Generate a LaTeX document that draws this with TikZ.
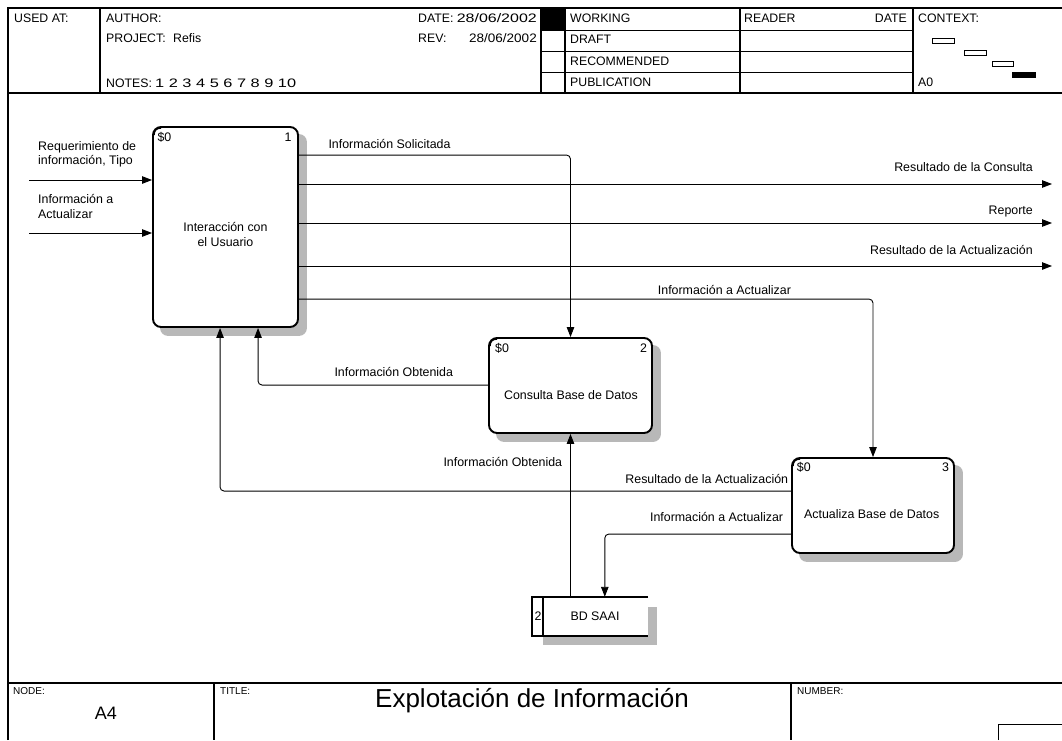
\documentclass[tikz,border=0pt]{standalone}
\usepackage{fontspec}
\usepackage{graphicx}
\setmainfont{Liberation Sans}
\usetikzlibrary{arrows.meta,calc,backgrounds}

\newcommand\lblfont{\fontsize{12.4}{14.2}\selectfont}
\newcommand\hdrfont{\fontsize{12.3}{14.2}\selectfont}
\newcommand\smallhdrfont{\fontsize{10}{12}\selectfont}

\tikzset{
  frameline/.style={line width=1.2pt},
  thinframe/.style={line width=0.9pt},
  procbox/.style={draw, line width=1.9pt, rounded corners=8pt, fill=white, inner sep=0pt},
  boxshade/.style={fill=black!28, rounded corners=8pt},
  flow/.style={line width=0.9pt, rounded corners=4pt, -{Triangle[length=10pt,width=7.5pt]}},
  lbl/.style={font=\lblfont, inner sep=0pt},
  hdr/.style={font=\hdrfont, inner sep=0pt, anchor=base west},
  corner/.style={line width=1pt},
}

\begin{document}
\begin{tikzpicture}[x=1pt,y=-1pt]
\useasboundingbox (0,0) rectangle (1062,740);

% ---------- header block ----------
\draw[frameline] (8,740) -- (8,8) -- (1062,8);
\draw[frameline] (8,93) -- (1062,93);
\foreach \xx in {100,541,565,740,913} \draw[frameline] (\xx,8) -- (\xx,93);
\foreach \yy in {30,51,72} \draw[thinframe] (541,\yy) -- (913,\yy);
\fill (541,8) rectangle (565,30);

\node[hdr] (usedat) at (14,22) {USED AT:};
\node[hdr] (author) at (106,22) {AUTHOR:};
\node[hdr] (project) at (106,42.3) {PROJECT:};
\node[hdr] (projname) at (173,42.3) {Refis};
\node[hdr] (notes) at (106,87) {NOTES:};
\node[hdr] (notenums) at (155,87) {\scalebox{1.33}[1]{1 2 3 4 5 6 7 8 9 10}};
\node[hdr] (date) at (418,22) {DATE:};
\node[hdr, anchor=base east] (dateval) at (537,22) {\scalebox{1.3}[1]{28/06/2002}};
\node[hdr] (rev) at (418,42.3) {REV:};
\node[hdr, anchor=base east] (revval) at (537,42.3) {\scalebox{1.1}[1]{28/06/2002}};
\node[hdr] (working) at (570,22) {WORKING};
\node[hdr] (draft) at (570,43) {DRAFT};
\node[hdr] (recommended) at (570,65) {RECOMMENDED};
\node[hdr] (publication) at (570,86) {PUBLICATION};
\node[hdr] (reader) at (744,22) {READER};
\node[hdr, anchor=base east] (readerdate) at (907,22) {DATE};
\node[hdr] (context) at (918,22) {CONTEXT:};
\node[hdr] (ctxnode) at (918,86) {A0};

% context staircase
\draw[line width=0.8pt] (932,38) rectangle (954,43);
\draw[line width=0.8pt] (964,50) rectangle (986,55);
\draw[line width=0.8pt] (992,61) rectangle (1013,66);
\fill (1012,72) rectangle (1036,78);

% ---------- footer block ----------
\draw[frameline] (8,683) -- (1062,683);
\draw[frameline] (214,683) -- (214,740);
\draw[frameline] (791,683) -- (791,740);
\draw[thinframe] (998,740) -- (998,724) -- (1062,724);
\node[inner sep=0pt, anchor=base west, font=\smallhdrfont] (nodelbl) at (13,694) {NODE:};
\node[inner sep=0pt, anchor=base west, font=\smallhdrfont] (titlelbl) at (220,694) {TITLE:};
\node[inner sep=0pt, anchor=base west, font=\smallhdrfont] (numberlbl) at (797,694) {NUMBER:};
\node[inner sep=0pt, anchor=base, font=\fontsize{18}{20}\selectfont] (nodeid) at (106,719) {A4};
\node[inner sep=0pt, anchor=base, font=\fontsize{26}{28}\selectfont] (title) at (532,707) {Explotación de Información};

% ---------- activity boxes ----------
\node[procbox, minimum width=145pt, minimum height=200pt] (b1) at (225.5,227) {};
\node[procbox, minimum width=163pt, minimum height=95pt] (b2) at (570.5,385.5) {};
\node[procbox, minimum width=162pt, minimum height=95pt] (b3) at (873,505.5) {};
\begin{scope}[on background layer]
  \foreach \b in {b1,b2,b3}
    \fill[boxshade] ($(\b.north west)+(8,8)$) rectangle ($(\b.south east)+(8,8)$);
\end{scope}
\foreach \b in {b1,b2,b3}
  \draw[corner] ($(\b.north west)+(2.2,9)$) .. controls ($(\b.north west)+(2.2,4.5)$) and ($(\b.north west)+(4.5,2.2)$) .. ($(\b.north west)+(9,2.2)$);

\node[lbl, align=center, anchor=base] (t1) at (225.5,246) {Interacción con\\el Usuario};
\node[lbl, anchor=base] (t2) at (571,399.3) {Consulta Base de Datos};
\node[lbl, anchor=base] (t3) at (871.7,518.3) {Actualiza Base de Datos};
\node[lbl, anchor=base west] (c1) at (157.3,141) {\$0};
\node[lbl, anchor=base east] (n1) at (291.7,141) {1};
\node[lbl, anchor=base west] (c2) at (495,352.3) {\$0};
\node[lbl, anchor=base east] (n2) at (647.3,352.3) {2};
\node[lbl, anchor=base west] (c3) at (796.7,471.7) {\$0};
\node[lbl, anchor=base east] (n3) at (949.3,471.7) {3};

% ---------- data store ----------
\node[minimum width=116pt, minimum height=39pt, inner sep=0pt] (st) at (590,616.5) {};
\begin{scope}[on background layer]
  \fill[black!28] ($(st.north west)+(11,10)$) rectangle ($(st.south east)+(9,9)$);
  \fill[white] (st.north west) rectangle (st.south east);
\end{scope}
\draw[line width=1.5pt] (st.north east) -- (st.north west) -- (st.south west) -- (st.south east);
\draw[line width=1.5pt] ([xshift=11pt]st.north west) -- ([xshift=11pt]st.south west);
\node[lbl, anchor=base] (stnum) at (538,620) {2};
\node[lbl, anchor=base] (stname) at (595,620) {BD SAAI};

% ---------- arrows ----------
\coordinate (in1) at (29,180);
\coordinate (in2) at (29,233);
\coordinate (out1) at (1052,184);
\coordinate (out2) at (1052,223);
\coordinate (out3) at (1052,266);

\draw[flow] (in1) -- (in1 -| b1.west);
\draw[flow] (in2) -- (in2 -| b1.west);
\draw[flow] ([yshift=-29pt]b1.north east) -| (b2.north);
\draw[flow] (b1.east |- out1) -- (out1);
\draw[flow] (b1.east |- out2) -- (out2);
\draw[flow] (b1.east |- out3) -- (out3);
\draw[flow] ([yshift=-173pt]b1.north east) -| (b3.north);
\draw[flow] ([yshift=-48pt]b2.north west) -| ([xshift=106pt]b1.south west);
\draw[flow] ([yshift=-34pt]b3.north west) -| ([xshift=68pt]b1.south west);
\draw[flow] ([yshift=-77pt]b3.north west) -| ([xshift=73pt]st.north west);
\draw[flow] (st.north -| b2.south) -- (b2.south);

% ---------- arrow labels ----------
\node[lbl, align=left, anchor=base west] (l1) at (38,164.3) {Requerimiento de\\información, Tipo};
\node[lbl, align=left, anchor=base west] (l2) at (38,218) {Información a\\Actualizar};
\node[lbl, anchor=base west] (l3) at (328.3,148.3) {Información Solicitada};
\node[lbl, anchor=base east] (l4) at (1033,171.7) {Resultado de la Consulta};
\node[lbl, anchor=base east] (l5) at (1033,214) {Reporte};
\node[lbl, anchor=base east] (l6) at (1033,254) {Resultado de la Actualización};
\node[lbl, anchor=base west] (l7) at (657.7,294.5) {Información a Actualizar};
\node[lbl, anchor=base west] (l8) at (334.3,376) {Información Obtenida};
\node[lbl, anchor=base east] (l9) at (562.3,466) {Información Obtenida};
\node[lbl, anchor=base east] (l10) at (788.3,483.3) {Resultado de la Actualización};
\node[lbl, anchor=base east] (l11) at (783.3,521) {Información a Actualizar};
\end{tikzpicture}
\end{document}
